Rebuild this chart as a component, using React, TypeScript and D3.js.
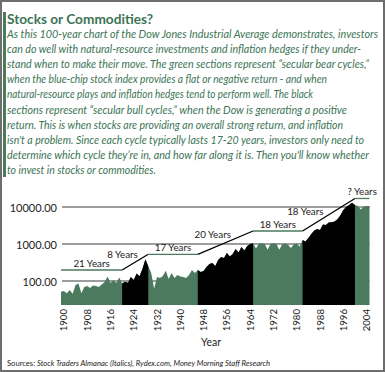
import React from "react";
import * as d3 from "d3";

// ---- content ----
const titleText = "Stocks or Commodities?";

const bodyLines = [
  "As this 100-year chart of the Dow Jones Industrial Average demonstrates, investors",
  "can do well with natural-resource investments and inflation hedges if they under-",
  "stand when to make their move. The green sections represent \u201Csecular bear cycles,\u201D",
  "when the blue-chip stock index provides a flat or negative return - and when",
  "natural-resource plays and inflation hedges tend to perform well. The black",
  "sections represent \u201Csecular bull cycles,\u201D when the Dow is generating a positive",
  "return. This is when stocks are providing an overall strong return, and inflation",
  "isn't a problem. Since each cycle typically lasts 17-20 years, investors only need to",
  "determine which cycle they\u2019re in, and how far along it is. Then you'll know whether",
  "to invest in stocks or commodities.",
];

// ---- data (Dow Jones, yearly) ----
const firstYear = 1899;
const dowValues = [
  51, 54, 47, 57, 45, 78, 86, 47, 69, 73, // 1899-1908
  65, 76, 73, 69, 80, 94, 132, 88, 106, 88, // 1909-1918
  124, 86, 96, 90, 128, 106, 160, 135, 215, 390, // 1919-1928
  250, 165, 62, 128, 120, 137, 190, 113, 164, 120, // 1929-1938
  145, 132, 128, 120, 145, 198, 164, 198, 175, 186, // 1939-1948
  239, 288, 306, 254, 370, 445, 420, 570, 460, 536, // 1949-1958
  730, 590, 830, 670, 880, 1000, 1040, 760, 1030, 1040, // 1959-1968
  1000, 700, 1020, 1050, 1010, 700, 990, 1040, 960, 780, // 1969-1978
  990, 1040, 840, 1290, 1160, 1450, 1870, 2320, 2540, 2400, // 1979-1988
  3380, 3240, 3800, 3900, 4050, 4700, 6000, 8300, 10200, 11300, // 1989-1998
  13100, 11300, 10600, 8600, 10300, 10600, 10600, // 1999-2005
];

const cycleStart = [1899, 1920, 1929, 1946, 1965, 1982, 2000];
const cycleEnd = [1920, 1929, 1946, 1965, 1982, 2000, 2005];
const cycleType = ["bear", "bull", "bear", "bull", "bear", "bull", "bear"];
const cycleLabel = ["21 Years", "8 Years", "17 Years", "20 Years", "18 Years", "18 Years", "? Years"];
// level of the horizontal (bear) brackets, in index points
const bearLevels = [198, 527, 2245, 17000];

const yTickValues = [100, 1000, 10000];
const xTickYears = [1900, 1908, 1916, 1924, 1932, 1940, 1948, 1956, 1964, 1972, 1980, 1988, 1996, 2004];

// ---- layout ----
const width = 386;
const height = 372;
const plotBottom = 305;
const green = "#4b7a5f";
const textGreen = "#3c7455";
const bodyWidths = [371, 354, 362, 320, 306, 340, 336, 357, 362, 149];
const bullLabelT = [0, 0.6, 0, 0.6, 0, 0.4, 0];

const App: React.FC = () => {
  const x = d3.scaleLinear().domain([1899, 2005]).range([61, 369.5]);
  const y = d3.scaleLog().domain([100, 10000]).range([281, 207]);

  const data = dowValues.map((v, i) => ({ year: firstYear + i, value: v }));

  const area = d3
    .area<{ year: number; value: number }>()
    .x((d) => x(d.year))
    .y0(plotBottom)
    .y1((d) => y(d.value));

  const areaPath = area(data) || "";

  // bracket segments
  let bi = 0;
  const brackets = cycleStart.map((s, i) => {
    const type = cycleType[i];
    let l0: number, l1: number;
    if (type === "bear") {
      l0 = l1 = bearLevels[bi];
      bi++;
    } else {
      l0 = bearLevels[bi - 1];
      l1 = bearLevels[bi];
    }
    return {
      type,
      label: cycleLabel[i],
      x0: x(s),
      x1: x(cycleEnd[i]),
      y0: y(l0),
      y1: y(l1),
      t: bullLabelT[i],
    };
  });

  const font = "Lato, 'Open Sans', sans-serif";

  return (
    <div style={{ position: "absolute", left: 0, top: 0 }}>
      <svg width={width} height={height} style={{ display: "block", background: "#fff" }}>
        {/* frame */}
        <rect x={1} y={1} width={383} height={370} fill="#fff" stroke="#6e6e6e" strokeWidth={2} />
        <rect x={3} y={12} width={3} height={165} fill={green} />

        {/* header text */}
        <text
          x={7}
          y={23.5}
          fontFamily={font}
          fontWeight="bold"
          fontSize={13.7}
          fill={textGreen}
          textLength={146}
          lengthAdjust="spacingAndGlyphs"
        >
          {titleText}
        </text>
        {bodyLines.map((line, i) => (
          <text
            key={i}
            x={7}
            y={38 + i * 15.1}
            fontFamily={font}
            fontStyle="italic"
            fontSize={10.5}
            fill={textGreen}
            textLength={bodyWidths[i]}
            lengthAdjust="spacingAndGlyphs"
          >
            {line}
          </text>
        ))}

        {/* grid lines */}
        {yTickValues.map((v) => (
          <g key={v}>
            <line x1={62} x2={369.5} y1={y(v)} y2={y(v)} stroke="#7d7d7d" strokeWidth={1.6} />
            <text
              x={57}
              y={y(v)}
              textAnchor="end"
              dominantBaseline="central"
              fontFamily={font}
              fontSize={11}
              fill="#222"
            >
              {d3.format(".2f")(v)}
            </text>
          </g>
        ))}

        {/* Dow area: green everywhere, black during bull cycles */}
        <defs>
          {brackets.map((b, i) =>
            b.type === "bull" ? (
              <clipPath id={`bull-${i}`} key={i}>
                <rect x={b.x0} y={0} width={b.x1 - b.x0} height={height} />
              </clipPath>
            ) : null
          )}
        </defs>
        <path d={areaPath} fill={green} />
        {brackets.map((b, i) =>
          b.type === "bull" ? (
            <path key={i} d={areaPath} fill="#000" clipPath={`url(#bull-${i})`} />
          ) : null
        )}

        {/* cycle brackets */}
        {brackets.map((b, i) => (
          <line
            key={i}
            x1={b.x0}
            x2={b.x1}
            y1={b.y0}
            y2={b.y1}
            stroke={b.type === "bear" ? green : "#000"}
            strokeWidth={1.3}
          />
        ))}
        {brackets.map((b, i) => {
          if (b.type === "bear") {
            return (
              <text
                key={i}
                x={(b.x0 + b.x1) / 2}
                y={b.y0 - 3}
                textAnchor="middle"
                fontFamily={font}
                fontSize={9.8}
                fill="#222"
              >
                {b.label}
              </text>
            );
          }
          const xe = b.x0 + b.t * (b.x1 - b.x0);
          const ye = b.y0 + b.t * (b.y1 - b.y0);
          return (
            <text key={i} x={xe} y={ye - 2.5} textAnchor="end" fontFamily={font} fontSize={9.8} fill="#222">
              {b.label}
            </text>
          );
        })}

        {/* x axis labels */}
        {xTickYears.map((yr) => (
          <text
            key={yr}
            transform={`translate(${x(yr)},309) rotate(-90)`}
            textAnchor="end"
            dominantBaseline="central"
            fontFamily={font}
            fontSize={9.6}
            fill="#222"
          >
            {yr}
          </text>
        ))}
        <text x={211} y={346} textAnchor="middle" fontFamily={font} fontSize={10.5} fill="#222">
          Year
        </text>

        {/* sources */}
        <text x={7} y={365.5} fontFamily={font} fontSize={8} fill="#222" textLength={263} lengthAdjust="spacingAndGlyphs">
          <tspan>Sources: </tspan>
          <tspan fontStyle="italic">
            Stock Traders Almanac (Italics), Rydex.com, Money Morning Staff Research
          </tspan>
        </text>
      </svg>
    </div>
  );
};

export default App;
